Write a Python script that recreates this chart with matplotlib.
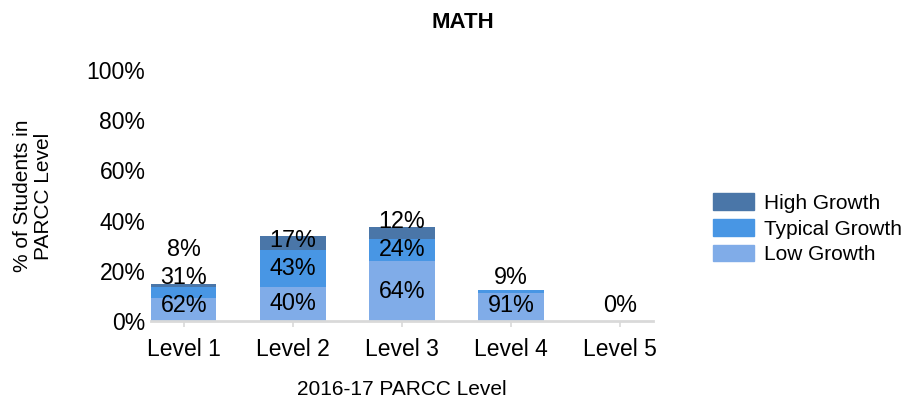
import matplotlib
matplotlib.use('Agg')
import matplotlib.pyplot as plt
from matplotlib.patches import Patch

plt.rcParams['font.family'] = ['Liberation Sans', 'DejaVu Sans']

levels = ['Level 1', 'Level 2', 'Level 3', 'Level 4', 'Level 5']
level_share = [14.6, 33.9, 37.3, 12.3, 0.0]   # % of students in each PARCC level
# % of each level's students per growth group (None = no label)
low_growth = [62, 40, 64, 91, 0]
typical_growth = [31, 43, 24, 9, None]
high_growth = [8, 17, 12, None, None]

groups = [('Low Growth', low_growth, '#80ace8'),
          ('Typical Growth', typical_growth, '#4896e4'),
          ('High Growth', high_growth, '#4a76a8')]

fig = plt.figure(figsize=(9.19, 4.09), dpi=100)
ax = fig.add_axes([151 / 919, 1 - 321 / 409, 502 / 919, 251 / 409])

x = list(range(len(levels)))
bottoms = [0.0] * len(levels)
labels_per_bar = [[] for _ in levels]
for name, vals, color in groups:
    heights = [tot * (v or 0) / 100 for tot, v in zip(level_share, vals)]
    ax.bar(x, heights, width=0.6, bottom=bottoms, color=color, linewidth=0)
    for i, v in enumerate(vals):
        if v is not None:
            labels_per_bar[i].append((bottoms[i] + heights[i] / 2, f'{v}%'))
    bottoms = [b + h for b, h in zip(bottoms, heights)]

# data labels, nudged upward so they don't collide
for i, labs in enumerate(labels_per_bar):
    prev = None
    for yc, txt in labs:
        y = max(yc, 6.0) if prev is None else max(yc, prev + 11.2)
        ax.text(i, y, txt, ha='center', va='center', fontsize=16.8, color='black')
        prev = y

ax.set_xlim(-0.3, 4.3)
ax.set_ylim(0, 100)
ax.set_xticks(x)
ax.set_xticklabels(levels)
ax.set_yticks([0, 20, 40, 60, 80, 100])
ax.set_yticklabels([f'{t}%' for t in [0, 20, 40, 60, 80, 100]])
ax.tick_params(axis='y', length=0, pad=4, labelsize=16.5)
ax.tick_params(axis='x', length=4, width=1.2, color='#d9d9d9', pad=8, labelsize=16.5)
for s in ['top', 'right', 'left']:
    ax.spines[s].set_visible(False)
ax.spines['bottom'].set_color('#d9d9d9')
ax.spines['bottom'].set_linewidth(2)

ax.set_xlabel('2016-17 PARCC Level', fontsize=15, labelpad=14)
fig.text(463 / 919, 1 - 23 / 409, 'MATH', ha='center', va='center',
         fontsize=16, fontweight='bold')
fig.text(33 / 919, 1 - 196 / 409, '% of Students in\nPARCC Level', rotation=90,
         ha='center', va='center', fontsize=15, multialignment='center',
         linespacing=1.15)

handles = [Patch(color=c, label=n) for n, _, c in groups[::-1]]
fig.legend(handles=handles, loc='upper left', bbox_to_anchor=(705 / 919, 1 - 185 / 409),
           frameon=False, fontsize=15, handlelength=1.95, handleheight=0.85,
           handletextpad=0.5, labelspacing=0.3, borderaxespad=0)

plt.savefig('out.png', dpi=100)
